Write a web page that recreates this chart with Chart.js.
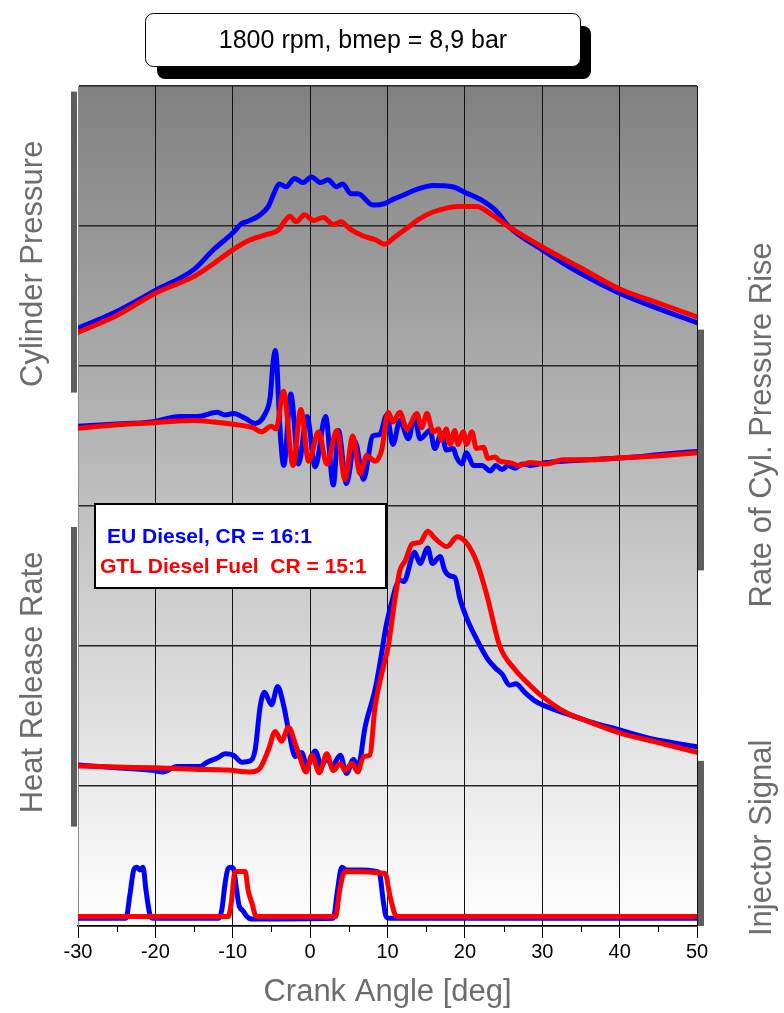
<!DOCTYPE html>
<html>
<head>
<meta charset="utf-8">
<script src="https://cdn.jsdelivr.net/npm/chart.js@4.4.1/dist/chart.umd.min.js"></script>
<style>
  html, body { margin: 0; padding: 0; background: #fff; }
  canvas { display: block; }
</style>
</head>
<body>
<canvas id="combustionChart" width="784" height="1013"></canvas>
<script>
// Crank angle in deg, trace levels in grid divisions (6 divisions, bottom = 0)

// Cylinder pressure
const pressureEuDeg = [-30, -25, -20, -15, -12.5, -10, -8.8, -8.2, -6.45, -5.4, -4.7, -4.0, -3.1, -2.0, -0.9, 0.15, 1.4, 2.3,
    3.4, 4.2, 5.3, 6.2, 8.1, 9.6, 10.7, 12.0, 13.7, 15.9, 18.4, 20, 22, 24, 25.8, 30, 35, 40, 45, 50];
const pressureEu = [4.27, 4.39, 4.54, 4.69, 4.83, 4.95, 5.02, 5.03, 5.08, 5.14, 5.23, 5.30, 5.28, 5.34, 5.31, 5.35, 5.31, 5.33,
    5.28, 5.30, 5.23, 5.23, 5.15, 5.16, 5.19, 5.22, 5.26, 5.29, 5.28, 5.24, 5.19, 5.11, 4.99, 4.83, 4.66, 4.52, 4.41, 4.31];
const pressureGtlDeg = [-30, -25, -20, -15, -12.5, -10, -8.2, -5.6, -4.1, -3.2, -2.6, -1.8, -0.7, 0.4, 1.7, 3.0, 4.0, 5.1,
    6.8, 8.5, 9.6, 10.7, 12.4, 14.1, 15.9, 19.3, 21.5, 23.5, 25.8, 30, 35, 40, 45, 50];
const pressureGtl = [4.24, 4.36, 4.52, 4.64, 4.73, 4.83, 4.89, 4.94, 4.97, 5.04, 5.07, 5.03, 5.08, 5.04, 5.06, 5.01, 5.03, 4.98,
    4.93, 4.90, 4.87, 4.91, 4.98, 5.05, 5.10, 5.14, 5.14, 5.08, 4.99, 4.85, 4.70, 4.55, 4.45, 4.35];

// Rate of cylinder pressure rise
const rateEuDeg = [-30, -25, -20.6, -16.8, -14.5, -12.0, -11.0, -9.9, -8.5, -7.1, -5.8, -5.16, -4.8, -4.5, -4.3, -4.1, -3.8, -3.4,
    -2.5, -1.5, -0.4, 0.65, 2.0, 3.0, 3.65, 4.7, 5.8, 6.9, 8.1, 9.0, 9.9, 10.7, 11.6, 12.7, 13.5, 14.2, 15.5, 16.1, 17.0, 17.6,
    18.5, 18.9, 19.6, 20.2, 21.1, 22.2, 23.3, 24.0, 24.8, 25.6, 26.5, 27.4, 28.4, 30.5, 32.7, 36, 39.1, 42, 45.6, 50];
const rateEu = [3.57, 3.585, 3.60, 3.64, 3.64, 3.67, 3.65, 3.66, 3.63, 3.59, 3.66, 3.78, 4.02, 4.11, 4.02, 3.78, 3.47, 3.29,
    3.80, 3.30, 3.64, 3.28, 3.64, 3.15, 3.54, 3.16, 3.46, 3.19, 3.50, 3.51, 3.65, 3.44, 3.61, 3.48, 3.64, 3.48, 3.54, 3.41, 3.52, 3.40,
    3.41, 3.35, 3.30, 3.38, 3.29, 3.29, 3.25, 3.29, 3.26, 3.29, 3.27, 3.30, 3.29, 3.31, 3.32, 3.33, 3.34, 3.35, 3.37, 3.39];
const rateGtlDeg = [-30, -25, -20.2, -15.1, -12.5, -10.2, -7.4, -6.3, -5.0, -4.4, -3.45, -2.2, -1.2, -0.2, 1.1, 2.15, 3.45, 4.5,
    5.5, 6.45, 7.3, 8.4, 9.25, 10.1, 10.7, 11.6, 12.5, 13.8, 14.4, 15.1, 15.9, 16.6, 17.0, 17.6, 18.1, 18.7, 19.1, 19.8, 20.2, 20.9,
    21.5, 22.4, 23.0, 23.9, 24.5, 25.8, 27.0, 28.4, 30.5, 32.7, 36, 39.1, 42, 45.6, 50];
const rateGtl = [3.555, 3.58, 3.595, 3.61, 3.60, 3.586, 3.56, 3.53, 3.57, 3.55, 3.82, 3.29, 3.69, 3.32, 3.53, 3.30, 3.54, 3.19,
    3.50, 3.23, 3.36, 3.32, 3.40, 3.67, 3.60, 3.67, 3.55, 3.66, 3.56, 3.66, 3.53, 3.55, 3.47, 3.55, 3.44, 3.54, 3.44, 3.53, 3.44, 3.53,
    3.41, 3.42, 3.34, 3.35, 3.32, 3.31, 3.29, 3.31, 3.30, 3.33, 3.33, 3.34, 3.35, 3.36, 3.38];

// Heat release rate
const heatEuDeg = [-30, -25, -20.2, -19, -17.2, -14.2, -13.3, -12.0, -11.0, -9.9, -8.8, -7.7, -7.1, -6.45, -5.9, -5.0, -4.2, -3.4,
    -2.8, -1.9, -1.1, -0.4, 0.65, 1.5, 2.15, 2.8, 3.9, 4.7, 5.6, 6.2, 7.1, 8.4, 9.25, 9.7, 10.3, 11.6, 12.1, 13.5, 14.2, 15.2,
    15.8, 16.8, 17.4, 18.1, 18.7, 19.4, 20.3, 21.6, 22.9, 24.0, 24.8, 25.8, 26.6, 27.7, 29.0, 30, 32.9, 36.1, 40, 43.9, 50];
const heatEu = [1.15, 1.13, 1.11, 1.10, 1.14, 1.14, 1.17, 1.20, 1.23, 1.22, 1.17, 1.18, 1.26, 1.57, 1.67, 1.58, 1.71, 1.57,
    1.40, 1.21, 1.24, 1.14, 1.25, 1.14, 1.21, 1.14, 1.22, 1.09, 1.19, 1.14, 1.42, 1.69, 1.95, 2.11, 2.26, 2.47, 2.46, 2.67, 2.59, 2.70,
    2.59, 2.64, 2.54, 2.50, 2.49, 2.33, 2.19, 2.04, 1.91, 1.84, 1.80, 1.72, 1.73, 1.67, 1.61, 1.58, 1.52, 1.46, 1.40, 1.34, 1.28];
const heatGtlDeg = [-30, -25, -20.2, -15, -10.7, -7.7, -6.5, -5.4, -4.5, -3.7, -2.8, -1.9, -1.3, -0.5, 0.2, 1.2, 2.15, 3.0,
    3.9, 4.5, 5.4, 6.15, 6.9, 7.7, 8.4, 9.25, 10.1, 11.0, 11.6, 12.3, 13.2, 14.2, 15.2, 16.1, 17.7, 19.0, 20.3, 21.6, 22.9, 24.5,
    26.5, 28.4, 30, 32.9, 36, 40, 45, 50];
const heatGtl = [1.143, 1.135, 1.13, 1.12, 1.114, 1.10, 1.126, 1.257, 1.39, 1.32, 1.42, 1.30, 1.20, 1.10, 1.22, 1.095, 1.23, 1.11,
    1.16, 1.11, 1.16, 1.10, 1.21, 1.22, 1.57, 1.80, 2.0, 2.35, 2.54, 2.61, 2.73, 2.74, 2.82, 2.77, 2.71, 2.78, 2.73, 2.59, 2.35, 2.0,
    1.83, 1.72, 1.64, 1.53, 1.46, 1.38, 1.31, 1.24];

// Injector signal
const injEuDeg = [-30, -23.8, -23.3, -22.8, -22.4, -22.0, -21.6, -21.2, -20.7, -20.3, -11.8, -11.4, -11.0, -10.6, -10.2, -9.9,
    -9.6, -9.2, -8.7, -8.2, -7.6, 3.0, 3.5, 4.1, 4.7, 6.5, 8.6, 9.0, 9.4, 9.8, 10.3, 50];
const injEu = [0.055, 0.055, 0.22, 0.40, 0.42, 0.40, 0.42, 0.25, 0.08, 0.055, 0.055, 0.12, 0.30, 0.41, 0.42, 0.41,
    0.30, 0.15, 0.11, 0.07, 0.05, 0.055, 0.24, 0.42, 0.40, 0.40, 0.39, 0.37, 0.20, 0.07, 0.055, 0.055];
const injGtlDeg = [-30, -10.6, -10.2, -9.7, -8.4, -8.0, -7.5, -7.1, -6.8, 3.3, 3.8, 4.5, 9.7, 10.3, 11.0, 11.4, 50];
const injGtl = [0.067, 0.067, 0.16, 0.39, 0.39, 0.25, 0.16, 0.08, 0.067, 0.067, 0.25, 0.39, 0.375, 0.22, 0.08, 0.067, 0.067];

const FONT = '"Liberation Sans", Arial, sans-serif';
const BLUE = '#0000ff';
const RED = '#ff0000';
const TITLE_GREY = '#6d6d6d';

// side captions: channel name, side, span of the channel in grid divisions
const channels = [
    { name: 'Cylinder Pressure', side: 'left', from: 3.81, to: 5.96, mid: 4.73 },
    { name: 'Rate of Cyl. Pressure Rise', side: 'right', from: 2.54, to: 4.26, mid: 3.58 },
    { name: 'Heat Release Rate', side: 'left', from: 0.71, to: 2.85, mid: 1.74 },
    { name: 'Injector Signal', side: 'right', from: 0, to: 1.18, mid: 0.63 },
];

function to_points(deg, vals) {
    return deg.map((d, i) => ({ x: d, y: vals[i] }));
}

function trace(label, deg, vals, color, order) {
    return {
        label,
        data: to_points(deg, vals),
        borderColor: color,
        backgroundColor: color,
        order,
    };
}

// ------------------------------------------------------------------
// Background, boxes and captions
// ------------------------------------------------------------------

const decorPlugin = {
    id: 'decor',
    beforeDraw(chart) {
        const { ctx, chartArea: a } = chart;
        const g = ctx.createLinearGradient(0, a.top, 0, a.bottom);
        g.addColorStop(0, '#808080');
        g.addColorStop(1, '#ffffff');
        ctx.save();
        ctx.fillStyle = g;
        ctx.fillRect(a.left, a.top, a.right - a.left, a.bottom - a.top);
        ctx.restore();
    },
    afterDatasetsDraw(chart) {
        const { ctx } = chart;
        // legend box
        ctx.save();
        ctx.fillStyle = '#fff';
        ctx.fillRect(95, 504, 291, 84);
        ctx.strokeStyle = '#000';
        ctx.lineWidth = 2;
        ctx.strokeRect(95, 504, 291, 84);
        ctx.font = `bold 21px ${FONT}`;
        ctx.textBaseline = 'alphabetic';
        ctx.fillStyle = BLUE;
        ctx.fillText('EU Diesel, CR = 16:1', 107, 543);
        ctx.fillStyle = RED;
        ctx.fillText('GTL Diesel Fuel  CR = 15:1', 100, 573);
        ctx.restore();
    },
    afterDraw(chart) {
        const { ctx, chartArea: a } = chart;
        const x = chart.scales.x;
        const y = chart.scales.y;
        ctx.save();

        // minor ticks on crank angle axis
        ctx.strokeStyle = '#000';
        ctx.lineWidth = 1;
        x.ticks.forEach(t => {
            if (t.value % 10 === 0) return;
            const px = Math.round(x.getPixelForValue(t.value)) + 0.5;
            ctx.beginPath();
            ctx.moveTo(px, a.bottom);
            ctx.lineTo(px, a.bottom + 6);
            ctx.stroke();
        });

        // channel bars and captions
        channels.forEach(ch => {
            const top = y.getPixelForValue(ch.to);
            const bot = y.getPixelForValue(ch.from);
            const bx = ch.side === 'left' ? a.left - 7 : a.right + 1;
            ctx.fillStyle = '#5e5e5e';
            ctx.fillRect(bx, top, 6, bot - top);

            ctx.save();
            ctx.translate(ch.side === 'left' ? 42 : 771, y.getPixelForValue(ch.mid));
            ctx.rotate(-Math.PI / 2);
            ctx.font = `31px ${FONT}`;
            ctx.fillStyle = TITLE_GREY;
            ctx.textAlign = 'center';
            ctx.textBaseline = 'alphabetic';
            ctx.fillText(ch.name, 0, 0);
            ctx.restore();
        });

        // operating point box with shadow
        ctx.fillStyle = '#000';
        ctx.beginPath();
        ctx.roundRect(157, 26, 434, 53, 8);
        ctx.fill();
        ctx.fillStyle = '#fff';
        ctx.strokeStyle = '#000';
        ctx.lineWidth = 1;
        ctx.beginPath();
        ctx.roundRect(145.5, 13.5, 435, 53, 8);
        ctx.fill();
        ctx.stroke();
        ctx.fillStyle = '#000';
        ctx.font = `25px ${FONT}`;
        ctx.textAlign = 'center';
        ctx.textBaseline = 'middle';
        ctx.fillText('1800 rpm, bmep = 8,9 bar', 363, 41);

        ctx.restore();
    },
};

// ------------------------------------------------------------------
// Chart
// ------------------------------------------------------------------

new Chart(document.getElementById('combustionChart'), {
    type: 'line',
    data: {
        datasets: [
            trace('Cylinder Pressure EU', pressureEuDeg, pressureEu, BLUE, 2),
            trace('Cylinder Pressure GTL', pressureGtlDeg, pressureGtl, RED, 1),
            trace('Pressure Rise EU', rateEuDeg, rateEu, BLUE, 2),
            trace('Pressure Rise GTL', rateGtlDeg, rateGtl, RED, 1),
            trace('Heat Release EU', heatEuDeg, heatEu, BLUE, 2),
            trace('Heat Release GTL', heatGtlDeg, heatGtl, RED, 1),
            trace('Injector EU', injEuDeg, injEu, BLUE, 2),
            trace('Injector GTL', injGtlDeg, injGtl, RED, 1),
        ],
    },
    options: {
        responsive: false,
        animation: false,
        devicePixelRatio: 1,
        layout: { padding: { left: 78, right: 87, top: 86, bottom: 0 } },
        elements: {
            point: { radius: 0, hoverRadius: 0 },
            line: {
                borderWidth: 5,
                cubicInterpolationMode: 'monotone',
                borderCapStyle: 'round',
                borderJoinStyle: 'round',
            },
        },
        plugins: {
            legend: { display: false },
            tooltip: { enabled: false },
        },
        scales: {
            x: {
                type: 'linear',
                min: -30,
                max: 50,
                afterFit: s => { s.height = 87; },
                ticks: {
                    stepSize: 5,
                    autoSkip: false,
                    maxRotation: 0,
                    padding: 2,
                    color: '#000',
                    font: { family: FONT, size: 20 },
                    callback: v => (v % 10 === 0 ? String(v) : ''),
                },
                grid: {
                    color: c => {
                        const v = c.tick ? c.tick.value : 0;
                        if (v === -30) return '#8a8a8a';
                        return v % 10 === 0 ? '#111' : 'rgba(0,0,0,0)';
                    },
                    tickColor: c => (c.tick && c.tick.value % 10 === 0 ? '#000' : 'rgba(0,0,0,0)'),
                    lineWidth: 1,
                    tickLength: 12,
                },
                border: { color: '#000', width: 1.5 },
                title: {
                    display: true,
                    text: 'Crank Angle [deg]',
                    color: TITLE_GREY,
                    font: { family: FONT, size: 31 },
                    padding: { top: 0, bottom: 2 },
                },
            },
            y: {
                min: 0,
                max: 6,
                afterFit: s => { s.width = 0; },
                ticks: { stepSize: 1, display: false },
                grid: { color: '#262626', lineWidth: 1.5, drawTicks: false },
                border: { display: true, color: '#8a8a8a', width: 1 },
            },
        },
    },
    plugins: [decorPlugin],
});
</script>
</body>
</html>
